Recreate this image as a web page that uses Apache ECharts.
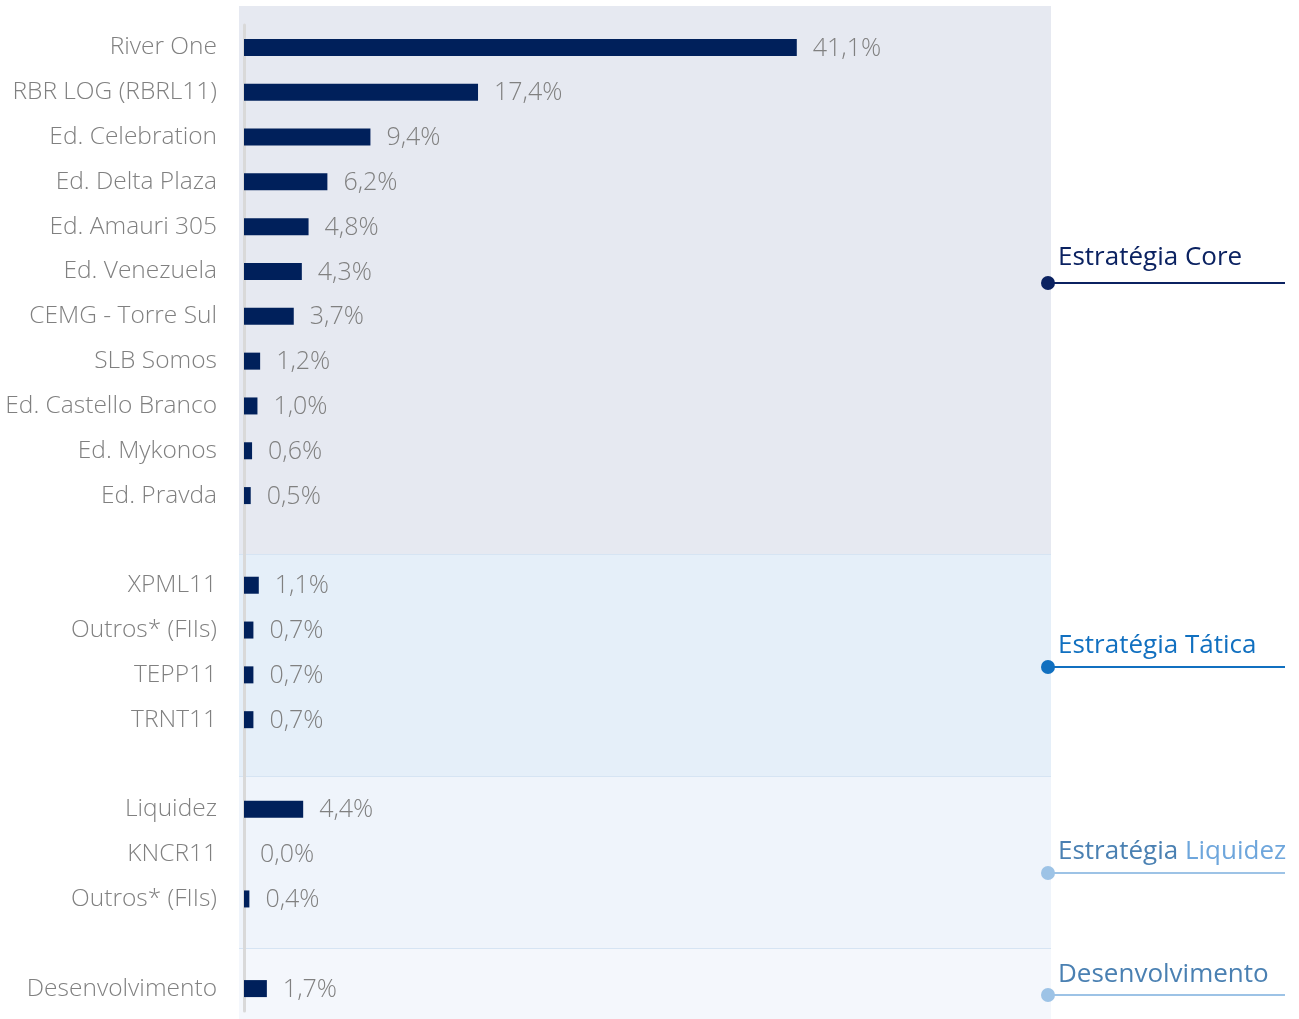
<!DOCTYPE html>
<html>
<head>
<meta charset="utf-8">
<script src="https://cdn.jsdelivr.net/npm/echarts@6/dist/echarts.min.js"></script>
<style>html,body{margin:0;padding:0;background:#fff}#c{width:1299px;height:1019px}</style>
</head>
<body>
<div id="c"></div>
<script>
// Categories (blank strings are spacer rows between groups)
var categories = [
  'River One', 'RBR LOG (RBRL11)', 'Ed. Celebration', 'Ed. Delta Plaza', 'Ed. Amauri 305',
  'Ed. Venezuela', 'CEMG - Torre Sul', 'SLB Somos', 'Ed. Castello Branco', 'Ed. Mykonos', 'Ed. Pravda',
  ' ',
  'XPML11', 'Outros* (FIIs)', 'TEPP11', 'TRNT11',
  '  ',
  'Liquidez', 'KNCR11', 'Outros* (FIIs)',
  '   ',
  'Desenvolvimento'
];
var values = [
  41.1, 17.4, 9.4, 6.2, 4.8, 4.3, 3.7, 1.2, 1.0, 0.6, 0.5,
  '-',
  1.1, 0.7, 0.7, 0.7,
  '-',
  4.4, 0.0, 0.4,
  '-',
  1.7
];
var groupLabels = ['Estratégia Core', 'Estratégia Tática', 'Estratégia Liquidez', 'Desenvolvimento'];

var chart = echarts.init(document.getElementById('c'), null, {renderer: 'canvas'});
var FONT = "'Open Sans', 'Noto Sans', sans-serif";

function fmt(v) { return v.toFixed(1).replace('.', ',') + '%'; }

var bands = [
  {y: 6, h: 548, c: '#e6e9f1'},
  {y: 554, h: 222, c: '#e5eff9'},
  {y: 776, h: 172, c: '#eff4fb'},
  {y: 948, h: 71, c: '#f4f7fc'}
];
var graphics = [];
bands.forEach(function (b, i) {
  graphics.push({type: 'rect', z: -10, shape: {x: 239, y: b.y, width: 812, height: b.h}, style: {fill: b.c}});
  if (i > 0) graphics.push({type: 'line', z: -9, shape: {x1: 239, y1: b.y + 0.5, x2: 1051, y2: b.y + 0.5}, style: {stroke: '#d6e4f3', lineWidth: 1}});
});
var ann = [
  {ty: 258, ly: 283, tc: '#0b2261', lc: '#0b2261', dc: '#0b2261', rich: null},
  {ty: 646, ly: 667, tc: '#1170c0', lc: '#1170c0', dc: '#1170c0', rich: null},
  {ty: 852, ly: 873, tc: '#4a80b2', lc: '#9dc3e6', dc: '#9dc3e6', rich: true},
  {ty: 975, ly: 995, tc: '#4a80b2', lc: '#9dc3e6', dc: '#9dc3e6', rich: null}
];
ann.forEach(function (a, i) {
  var txt;
  if (a.rich) {
    var parts = groupLabels[i].split(' ');
    txt = {type: 'text', x: 1058, y: a.ty, style: {
      text: '{a|' + parts[0] + ' }{b|' + parts[1] + '}', verticalAlign: 'middle', align: 'left',
      rich: {a: {fontSize: 26, fontFamily: FONT, fill: '#4a80b2', color: '#4a80b2'}, b: {fontSize: 26, fontFamily: FONT, fill: '#6ea6dc', color: '#6ea6dc'}}
    }};
  } else {
    txt = {type: 'text', x: 1058, y: a.ty, style: {text: groupLabels[i], font: '26px ' + FONT, fill: a.tc, verticalAlign: 'middle', align: 'left'}};
  }
  graphics.push(txt);
  graphics.push({type: 'line', shape: {x1: 1048, y1: a.ly, x2: 1285, y2: a.ly}, style: {stroke: a.lc, lineWidth: 2}});
  graphics.push({type: 'circle', shape: {cx: 1048, cy: a.ly, r: 7}, style: {fill: a.dc}});
});

chart.setOption({
  animation: false,
  backgroundColor: '#ffffff',
  grid: {left: 244, top: 25, width: 807, height: 986, containLabel: false},
  xAxis: {type: 'value', min: 0, max: 60, show: false},
  yAxis: {
    type: 'category', inverse: true, data: categories, offset: 3,
    axisLine: {show: true, lineStyle: {color: '#d9d9d9', width: 3}},
    axisTick: {show: false},
    axisLabel: {margin: 24, color: '#808080', fontSize: 24.5, fontFamily: FONT, fontWeight: 300, interval: 0}
  },
  series: [{
    type: 'bar', data: values, barWidth: 17,
    itemStyle: {color: '#00205b'},
    label: {show: true, position: 'right', distance: 16, color: '#808080', fontSize: 25, fontFamily: FONT, fontWeight: 300,
      offset: [0, 1],
      formatter: function (p) { return typeof p.value === 'number' ? fmt(p.value) : ''; }}
  }],
  graphic: graphics
});
</script>
</body>
</html>
